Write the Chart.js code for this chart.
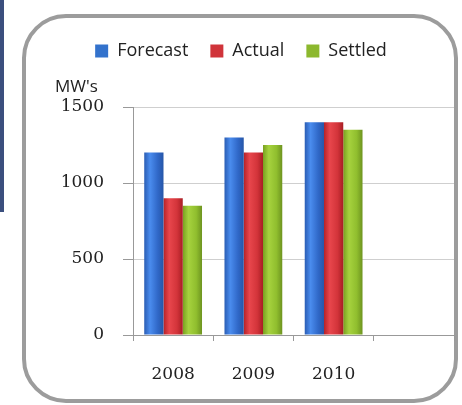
<!DOCTYPE html>
<html lang="en">
<head>
    <meta charset="UTF-8">
    <title>MW Capacity</title>
    <script src="https://cdn.jsdelivr.net/npm/chart.js"></script>
    <style>
        html, body { margin: 0; padding: 0; background: #fff; }
        #wrap { position: relative; width: 462px; height: 405px; }
    </style>
</head>
<body>
    <div id="wrap"><canvas id="mwChart" width="462" height="405"></canvas></div>
    <script>
        // Years on the x axis (last slot left empty)
        var years = ['2008', '2009', '2010', ''];
        var forecast = [1200, 1300, 1400, null];
        var actual = [900, 1200, 1400, null];
        var settled = [850, 1250, 1350, null];
        var yTicks = [0, 500, 1000, 1500];

        // edge / highlight / edge shades for the rounded bar look
        var shades = [
            ['#2a5db4', '#4a8cee', '#3068c8', '#2656a8'],
            ['#b52228', '#e8464c', '#d3343a', '#a81e24'],
            ['#78a020', '#a6d23e', '#90be2e', '#6e9420']
        ];

        var framePlugin = {
            id: 'frame',
            beforeDraw: function(chart) {
                var c = chart.ctx;
                c.save();
                // dark strip on the left edge
                c.fillStyle = '#3b4f7e';
                c.fillRect(0, 0, 4, 212);
                // rounded frame
                c.strokeStyle = '#9c9c9c';
                c.lineWidth = 4;
                c.beginPath();
                c.roundRect(24, 16, 432, 385, 42);
                c.stroke();
                c.restore();
            },
            afterDraw: function(chart) {
                var c = chart.ctx;
                c.save();
                c.fillStyle = '#222';
                c.font = '17px "Open Sans", sans-serif';
                c.textBaseline = 'middle';
                c.fillText("MW's", 55, 87);
                c.restore();
            },
            beforeDatasetsDraw: function(chart) {
                var c = chart.ctx;
                chart.data.datasets.forEach(function(ds, i) {
                    chart.getDatasetMeta(i).data.forEach(function(bar) {
                        var w = bar.width;
                        var g = c.createLinearGradient(bar.x - w / 2, 0, bar.x + w / 2, 0);
                        g.addColorStop(0, shades[i][0]);
                        g.addColorStop(0.3, shades[i][1]);
                        g.addColorStop(0.7, shades[i][2]);
                        g.addColorStop(1, shades[i][3]);
                        bar.options = Object.assign({}, bar.options, { backgroundColor: g });
                    });
                });
            }
        };

        var ctx = document.getElementById('mwChart').getContext('2d');
        var mwChart = new Chart(ctx, {
            type: 'bar',
            data: {
                labels: years,
                datasets: [
                    { label: 'Forecast', data: forecast, backgroundColor: '#3372cc' },
                    { label: 'Actual', data: actual, backgroundColor: '#d0343a' },
                    { label: 'Settled', data: settled, backgroundColor: '#8cb82e' }
                ]
            },
            options: {
                responsive: false,
                animation: false,
                layout: { padding: { top: 20, left: 28, right: 8, bottom: 0 } },
                datasets: {
                    bar: { categoryPercentage: 0.72, barPercentage: 1.0 }
                },
                plugins: {
                    tooltip: { enabled: false },
                    legend: {
                        position: 'top',
                        labels: {
                            boxWidth: 13,
                            boxHeight: 13,
                            padding: 22,
                            color: '#222',
                            font: { family: '"Open Sans", sans-serif', size: 18 }
                        }
                    }
                },
                scales: {
                    x: {
                        afterFit: function(scale) { scale.height = 70; },
                        grid: {
                            display: true,
                            drawOnChartArea: false,
                            offset: true,
                            tickLength: 6,
                            color: '#999'
                        },
                        border: { color: '#999' },
                        ticks: {
                            padding: 23,
                            color: '#222',
                            font: { family: '"DejaVu Serif", serif', size: 17 }
                        }
                    },
                    y: {
                        min: 0,
                        max: 1500,
                        afterFit: function(scale) { scale.width = 105; },
                        afterBuildTicks: function(scale) {
                            scale.ticks = yTicks.map(function(v) { return { value: v }; });
                        },
                        grid: {
                            color: function(c) { return c.tick.value === 0 ? 'rgba(0,0,0,0)' : '#cfcfcf'; },
                            tickColor: '#999',
                            tickLength: 10
                        },
                        border: { color: '#999' },
                        ticks: {
                            padding: 19,
                            color: '#222',
                            font: { family: '"DejaVu Serif", serif', size: 17 },
                            callback: function(v) { return String(v); }
                        }
                    }
                }
            },
            plugins: [framePlugin, {
                id: 'legendHeight',
                beforeInit: function(chart) {
                    var fit = chart.legend.fit;
                    chart.legend.fit = function() {
                        fit.bind(chart.legend)();
                        this.height = 87;
                    };
                }
            }]
        });
    </script>
</body>
</html>
